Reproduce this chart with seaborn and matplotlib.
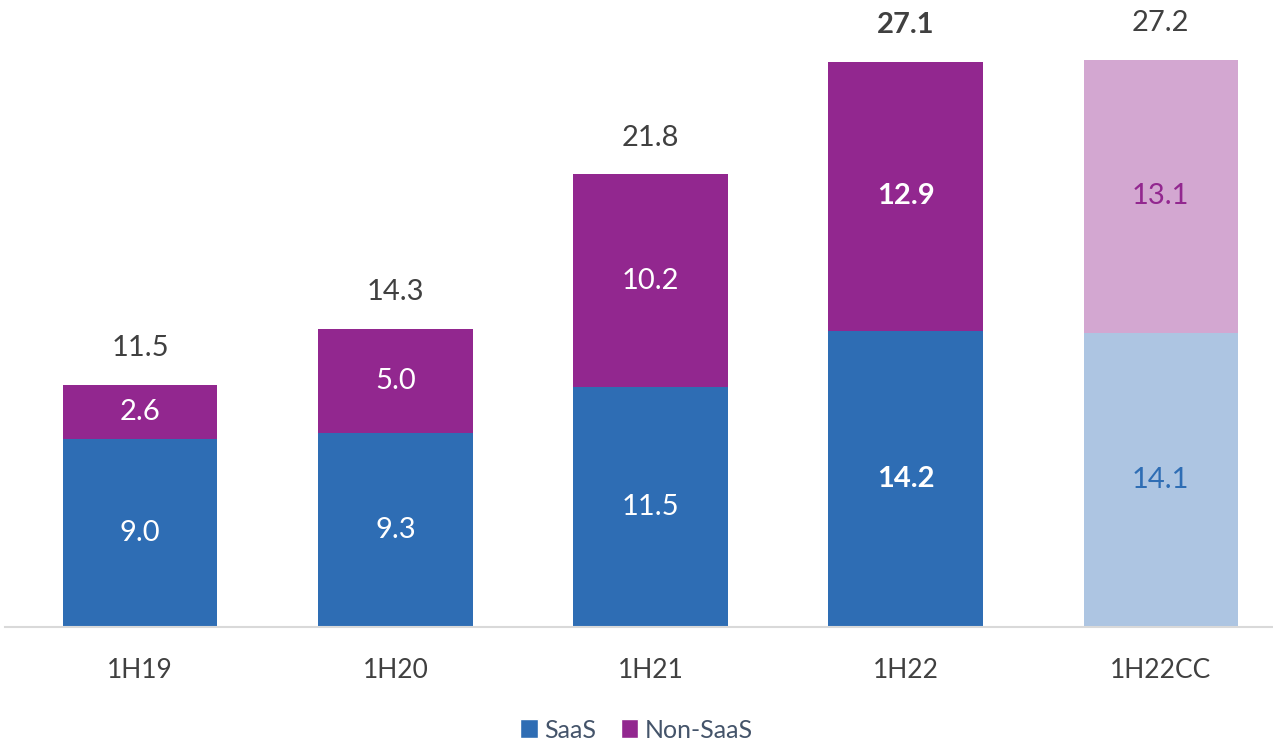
import matplotlib
matplotlib.use("Agg")
import matplotlib.pyplot as plt
import seaborn as sns
import pandas as pd
from matplotlib.patches import Patch

categories = ["1H19", "1H20", "1H21", "1H22", "1H22CC"]
saas = [9.0, 9.3, 11.5, 14.2, 14.1]
non_saas = [2.6, 5.0, 10.2, 12.9, 13.1]
totals = [11.5, 14.3, 21.8, 27.1, 27.2]

saas_colors = ["#2E6DB4", "#2E6DB4", "#2E6DB4", "#2E6DB4", "#ADC5E2"]
non_colors = ["#92278F", "#92278F", "#92278F", "#92278F", "#D3A7D1"]
saas_label_colors = ["white", "white", "white", "white", "#2E6DB4"]
non_label_colors = ["white", "white", "white", "white", "#92278F"]
bold = [False, False, False, True, False]

sns.set_theme(style="white")
plt.rcParams["font.family"] = ["Lato", "DejaVu Sans"]

df = pd.DataFrame({"cat": categories, "saas": saas, "non": non_saas})
df["stack"] = df["saas"] + df["non"]

fig = plt.figure(figsize=(12.73, 7.44), dpi=100)
ax = fig.add_axes([5 / 1273, 117 / 744, 1268 / 1273, 627 / 744])

# full stack (Non-SaaS on top) drawn first, SaaS drawn over its lower part
sns.barplot(data=df, x="cat", y="stack", hue="cat", palette=non_colors,
            order=categories, hue_order=categories, legend=False,
            width=0.605, ax=ax, linewidth=0, saturation=1)
sns.barplot(data=df, x="cat", y="saas", hue="cat", palette=saas_colors,
            order=categories, hue_order=categories, legend=False,
            width=0.605, ax=ax, linewidth=0, saturation=1)

ax.set_xlim(-0.53, 4.44)
ax.set_ylim(0, 30.06)
ax.set_xlabel("")
ax.set_ylabel("")
ax.set_yticks([])
for s in ["top", "right", "left"]:
    ax.spines[s].set_visible(False)
ax.spines["bottom"].set_color("#D9D9D9")
ax.spines["bottom"].set_linewidth(1.5)
ax.tick_params(axis="x", length=0, pad=22, labelsize=19, labelcolor="#404040")

fs = 21
for i in range(len(categories)):
    w = "bold" if bold[i] else "normal"
    ax.text(i, saas[i] / 2, f"{saas[i]:.1f}", ha="center", va="center",
            fontsize=fs, color=saas_label_colors[i], fontweight=w)
    ax.text(i, saas[i] + non_saas[i] / 2, f"{non_saas[i]:.1f}", ha="center", va="center",
            fontsize=fs, color=non_label_colors[i], fontweight=w)
    ax.annotate(f"{totals[i]:.1f}", xy=(i, saas[i] + non_saas[i]), xytext=(0, 26.5),
                textcoords="offset points", ha="center", va="center",
                fontsize=fs, color="#404040", fontweight=w, annotation_clip=False)

handles = [Patch(facecolor="#2E6DB4", label="SaaS"), Patch(facecolor="#92278F", label="Non-SaaS")]
leg = fig.legend(handles=handles, loc="center", bbox_to_anchor=(0.5, 14 / 744),
                 ncol=2, frameon=False, fontsize=18, handlelength=0.7, handleheight=0.8,
                 handletextpad=0.25, columnspacing=1.0)
for t in leg.get_texts():
    t.set_color("#44546A")

fig.savefig("out.png", dpi=100)
